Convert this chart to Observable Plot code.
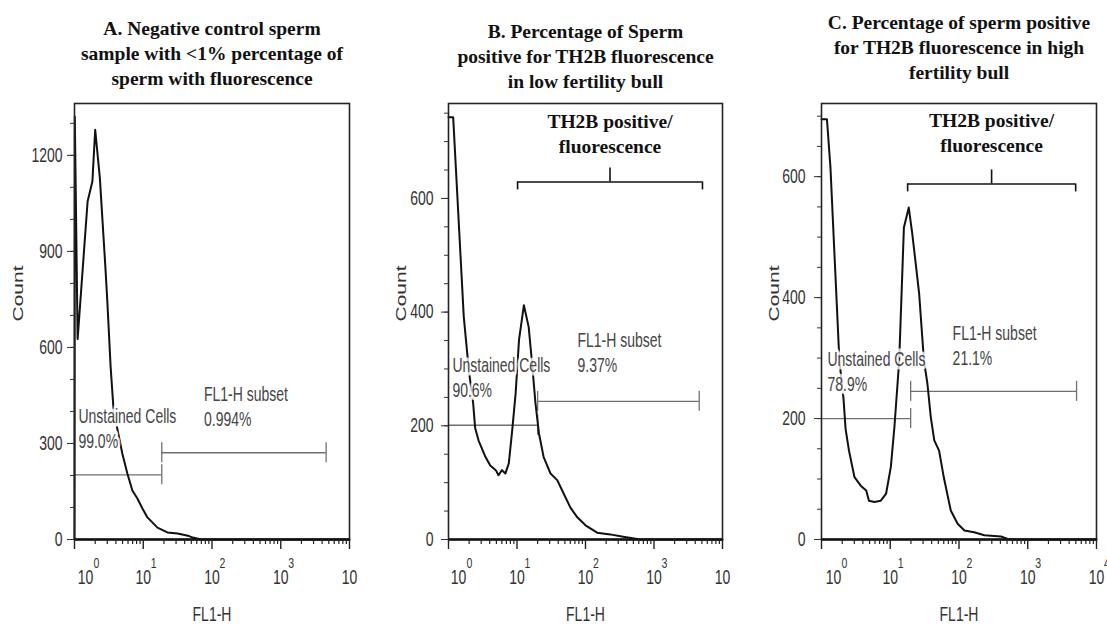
<!DOCTYPE html>
<html><head><meta charset="utf-8">
<script src="https://cdn.jsdelivr.net/npm/d3@7"></script>
<script src="https://cdn.jsdelivr.net/npm/@observablehq/plot@0.6"></script>
<style>
html,body{margin:0;padding:0;background:#fff;}
#wrap{position:relative;width:1107px;height:626px;overflow:hidden;background:#fff;}
.panel{position:absolute;top:0;width:369px;height:626px;}
</style></head><body><div id="wrap"></div>
<script>
// ---------- DATA ----------
const decades = [1, 10, 100, 1000, 10000];
const decadeExp = ["0", "1", "2", "3", "4"];

const titleA = "A. Negative control sperm\nsample with <1% percentage of\nsperm with fluorescence";
const titleB = "B. Percentage of Sperm\npositive for TH2B fluorescence\nin low fertility bull";
const titleC = "C. Percentage of sperm positive\nfor TH2B fluorescence in high\nfertility bull";

// Panel A histogram (FL1-H channel value, count)
const fl1A = [1.00, 1.01, 1.11, 1.55, 1.82, 2.00, 2.34, 2.82, 3.00, 3.36, 3.71, 4.97, 5.87, 6.95, 8.22, 9.73, 11.5, 16.1, 22.4, 31.6, 44.7, 52.5, 69.2, 10000];
const countA = [0, 1321, 626, 1056, 1118, 1280, 1128, 847, 745, 536, 402, 268, 206, 153, 128, 97, 69, 37, 22, 19, 12, 6, 0, 0];

// Panel B histogram
const fl1B = [1.00, 1.17, 1.67, 1.98, 2.29, 2.45, 2.75, 3.47, 4.07, 4.90, 5.37, 6.03, 6.76, 7.59, 8.51, 9.55, 10.7, 12.6, 14.8, 16.6, 18.6, 20.9, 24.5, 30.9, 38.9, 47.9, 60.3, 75.9, 100, 148, 229, 355, 631, 10000];
const countB = [743, 743, 392, 298, 240, 196, 174, 145, 130, 122, 113, 122, 116, 134, 192, 257, 351, 412, 374, 310, 240, 187, 145, 116, 104, 81, 56, 39, 25, 12, 9, 5, 0, 0];

// Panel C histogram
const fl1C = [1.00, 1.20, 1.35, 1.82, 2.09, 2.24, 2.51, 3.02, 3.72, 4.47, 4.90, 5.89, 7.24, 8.71, 10.2, 11.5, 13.5, 15.8, 18.6, 20.9, 26.3, 30.9, 34.7, 38.9, 43.7, 51.3, 60.3, 75.9, 95.5, 120, 166, 234, 407, 513, 631, 10000];
const countC = [695, 695, 615, 296, 233, 183, 147, 103, 89, 81, 64, 62, 64, 76, 120, 186, 296, 516, 549, 506, 407, 296, 258, 202, 164, 147, 102, 48, 26, 15, 12, 7, 5, 1, 0, 0];

// Y axis ticks
const yLabeledA = [0, 300, 600, 900, 1200];
const yLabeledB = [0, 200, 400, 600];
const yLabeledC = [0, 200, 400, 600];
const yMinorA = [0, 100, 200, 300, 400, 500, 600, 700, 800, 900, 1000, 1100, 1200, 1300];
const yMinorB = [0, 50, 100, 150, 200, 250, 300, 350, 400, 450, 500, 550, 600, 650, 700, 750];
const yMinorC = [0, 50, 100, 150, 200, 250, 300, 350, 400, 450, 500, 550, 600, 650, 700];

// Gates (marker ranges): low end, high end, count level
const gateLoA = [1, 18.6], gateHiA = [18.6, 4570], gateYA = [202, 271];
const gateLoB = [1, 20.0], gateHiB = [20.0, 4570], gateYB = [201, 243];
const gateLoC = [1, 19.8], gateHiC = [19.8, 5130], gateYC = [200, 245];

// Gate labels
const gateTextA = ["Unstained Cells\n99.0%", "FL1-H subset\n0.994%"];
const gateTextB = ["Unstained Cells\n90.6%", "FL1-H subset\n9.37%"];
const gateTextC = ["Unstained Cells\n78.9%", "FL1-H subset\n21.1%"];
const gateLabelXA = [1.14, 76.4], gateLabelYA = [287, 355];
const gateLabelXB = [1.14, 76.4], gateLabelYB = [250, 294];
const gateLabelXC = [1.22, 80.7], gateLabelYC = [246, 288];

// Brackets "TH2B positive/ fluorescence"
const bracketText = "TH2B positive/\nfluorescence";
const bracketB = {x1: 10.2, x2: 5100, xc: 228, y: 629, labelY: 680};
const bracketC = {x1: 17.9, x2: 4980, xc: 298, y: 588, labelY: 641};

// ---------- PANELS ----------
const panels = [
  {title: titleA, fl1: fl1A, count: countA, yMax: 1362, yLab: yLabeledA, yMin: yMinorA,
   gLo: gateLoA, gHi: gateHiA, gY: gateYA, gT: gateTextA, gX: gateLabelXA, gLY: gateLabelYA, bracket: null,
   left: 0, mL: 74, mR: 20, titleDy: -19, countDx: -56.5, ytPad: 5, firstDx: 11, lastSup: false},
  {title: titleB, fl1: fl1B, count: countB, yMax: 767, yLab: yLabeledB, yMin: yMinorB,
   gLo: gateLoB, gHi: gateHiB, gY: gateYB, gT: gateTextB, gX: gateLabelXB, gLY: gateLabelYB, bracket: bracketB,
   left: 369, mL: 79, mR: 16, titleDy: -16, countDx: -47, ytPad: 8, firstDx: 10, lastSup: false},
  {title: titleC, fl1: fl1C, count: countC, yMax: 721, yLab: yLabeledC, yMin: yMinorC,
   gLo: gateLoC, gHi: gateHiC, gY: gateYC, gT: gateTextC, gX: gateLabelXC, gLY: gateLabelYC, bracket: bracketC,
   left: 738, mL: 83, mR: 11, titleDy: -25, countDx: -47, ytPad: 9, firstDx: 12, lastSup: true}
];

const minorX = [];
for (const d of [1, 10, 100, 1000]) for (let k = 2; k <= 9; k++) minorX.push(d * k);

const serif = "'Liberation Serif', 'Times New Roman', serif";
const sans = "'Liberation Sans', Arial, sans-serif";

// The original plot's sans-serif lettering is vertically elongated; mimic it.
function stretch(svg) {
  svg.querySelectorAll("text").forEach(t => {
    const holder = t.closest("[font-family]");
    const ff = holder && holder !== svg ? holder.getAttribute("font-family") : "";
    if (ff && ff.includes("Serif")) return;
    const tr = t.getAttribute("transform");
    if (!tr) return;
    t.setAttribute("transform", tr + (tr.includes("rotate") ? " scale(1.4,1)" : " scale(1,1.4)"));
  });
}

const wrap = document.getElementById("wrap");
for (const p of panels) {
  const rows = p.fl1.map((x, i) => ({x, y: p.count[i]}));
  const gates = p.gY.map((y, i) => ({x1: p.gLo[i], x2: p.gHi[i], y}));
  const gateEnds = gates.flatMap(g => [{x: g.x1, y: g.y}, {x: g.x2, y: g.y}]).filter(d => d.x > 1);
  const labels = p.gT.map((t, i) => ({t, x: p.gX[i], y: p.gLY[i]}));
  const supList = decades.slice(1, p.lastSup ? 5 : 4);

  const marks = [
    Plot.ruleY(gates, {y: "y", x1: "x1", x2: "x2", stroke: "#6f6f6f", strokeWidth: 1.3}),
    Plot.ruleX(gateEnds, {x: "x", y1: "y", y2: "y", insetTop: -10, insetBottom: -10, stroke: "#6f6f6f", strokeWidth: 1.3}),
    Plot.line(rows, {x: "x", y: "y", stroke: "#111", strokeWidth: 2, strokeLinejoin: "round"}),
    Plot.text(labels, {x: "x", y: "y", text: "t", textAnchor: "start", lineAnchor: "bottom", lineHeight: 1.28,
      fontSize: 14, fill: "#444", stroke: "white", strokeWidth: 5, strokeOpacity: 0.8, paintOrder: "stroke"}),
    Plot.frame({stroke: "#222", strokeWidth: 1.6}),
    Plot.ruleY([0], {stroke: "#111", strokeWidth: 2.5}),
    Plot.axisY({ticks: p.yMin, tickSize: 4, tickFormat: () => "", label: null, stroke: "#333"}),
    Plot.axisY({ticks: p.yLab, tickSize: 7, tickPadding: p.ytPad, tickFormat: d => String(d), label: null, fontSize: 14, color: "#333"}),
    Plot.axisX({ticks: decades, tickSize: 10, tickFormat: () => "", label: null, stroke: "#222", strokeWidth: 1.4}),
    Plot.axisX({ticks: minorX, tickSize: 5, tickFormat: () => "", label: null, stroke: "#222", strokeWidth: 1.2}),
    Plot.text([decades[0]], {x: d => d, text: () => "10", frameAnchor: "bottom", dy: 44, dx: p.firstDx, lineAnchor: "bottom", fontSize: 14, fill: "#333"}),
    Plot.text(decades.slice(1), {x: d => d, text: () => "10", frameAnchor: "bottom", dy: 44, lineAnchor: "bottom", fontSize: 14, fill: "#333"}),
    Plot.text([decades[0]], {x: d => d, text: () => decadeExp[0], frameAnchor: "bottom", dy: 28, dx: p.firstDx + 8, textAnchor: "start", lineAnchor: "bottom", fontSize: 10.5, fill: "#333"}),
    Plot.text(supList, {x: d => d, text: d => decadeExp[decades.indexOf(d)], frameAnchor: "bottom", dy: 28, dx: 7.5, textAnchor: "start", lineAnchor: "bottom", fontSize: 10.5, fill: "#333"}),
    Plot.text(["FL1-H"], {text: d => d, frameAnchor: "bottom", dy: 81, lineAnchor: "bottom", fontSize: 14, fill: "#333"}),
    Plot.text(["Count"], {text: d => d, frameAnchor: "left", dx: p.countDx, rotate: -90, fontSize: 15, fill: "#333"}),
    Plot.text([p.title], {text: d => d, frameAnchor: "top", dy: p.titleDy, lineAnchor: "bottom", lineHeight: 1.28,
      fontFamily: serif, fontWeight: "bold", fontSize: 19.5, fill: "#111"})
  ];
  if (p.bracket) {
    const b = p.bracket;
    marks.push(
      Plot.ruleY([b], {y: "y", x1: "x1", x2: "x2", stroke: "#111", strokeWidth: 1.6}),
      Plot.ruleX([{x: b.x1, y: b.y}, {x: b.x2, y: b.y}], {x: "x", y1: "y", y2: "y", insetBottom: -8, stroke: "#111", strokeWidth: 1.6}),
      Plot.ruleX([{x: b.xc, y: b.y}], {x: "x", y1: "y", y2: "y", insetTop: -14, stroke: "#111", strokeWidth: 1.6}),
      Plot.text([b], {x: "xc", y: "labelY", text: () => bracketText, lineAnchor: "bottom", lineHeight: 1.28,
        fontFamily: serif, fontWeight: "bold", fontSize: 19.5, fill: "#111"})
    );
  }
  const svg = Plot.plot({
    width: 369, height: 626,
    marginLeft: p.mL, marginRight: p.mR, marginTop: 103, marginBottom: 87,
    x: {type: "log", domain: [1, 10000]},
    y: {domain: [0, p.yMax]},
    style: {fontFamily: sans, fontSize: "14px", background: "white", overflow: "visible"},
    marks
  });
  stretch(svg);
  const div = document.createElement("div");
  div.className = "panel";
  div.style.left = p.left + "px";
  div.appendChild(svg);
  wrap.appendChild(div);
}
</script></body></html>
